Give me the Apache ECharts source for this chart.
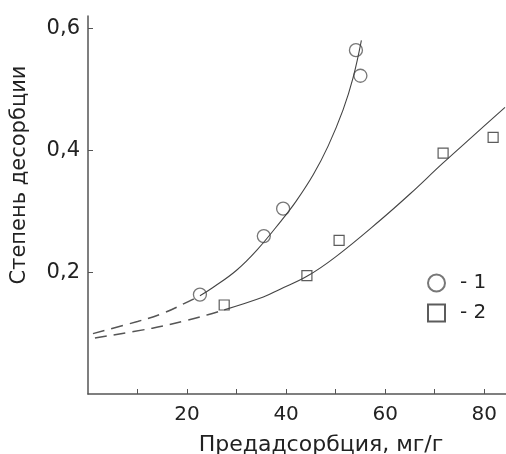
<!DOCTYPE html>
<html>
<head>
<meta charset="utf-8">
<script src="https://cdn.jsdelivr.net/npm/echarts@6/dist/echarts.min.js"></script>
<style>html,body{margin:0;padding:0;background:#fff}#c{width:506px;height:454px}</style>
</head>
<body>
<div id="c"></div>
<script>
// Experimental points
const series1Points = [[22.6, 0.163], [35.5, 0.259], [39.4, 0.304], [54.1, 0.564], [55.0, 0.522]];
const series2Points = [[27.5, 0.146], [44.2, 0.194], [50.7, 0.252], [71.7, 0.395], [81.8, 0.421]];
// Fitted curves
const fit1Dashed = [[1, 0.099], [10, 0.119], [15, 0.132], [19.6, 0.149], [22.6, 0.161]];
const fit1Solid = [[22.6, 0.161], [25.3, 0.175], [30, 0.203], [34.1, 0.236], [38.8, 0.282], [42, 0.316], [45.5, 0.360], [48.5, 0.407], [51.5, 0.466], [53.5, 0.518], [55.2, 0.580]];
const fit2Dashed = [[1.4, 0.092], [13, 0.108], [20, 0.121], [24.2, 0.130], [27.5, 0.138]];
const fit2Solid = [[27.5, 0.138], [35.4, 0.159], [38.8, 0.172], [44.2, 0.193], [50, 0.225], [59, 0.285], [65, 0.328], [71.7, 0.379], [78, 0.425], [84.2, 0.470]];
const xTicks = [10, 20, 30, 40, 50, 60, 70, 80];
const xLabels = [20, 40, 60, 80];
const yTicks = [0.2, 0.4, 0.6];
const legendNames = ['- 1', '- 2'];

const chart = echarts.init(document.getElementById('c'));
const lineColor = '#444';
const font = '"DejaVu Sans", sans-serif';
chart.setOption({
  animation: false,
  backgroundColor: '#fff',
  textStyle: { fontFamily: font },
  grid: { left: 88, right: 0, top: 16, bottom: 60, outerBoundsMode: 'none', containLabel: false },
  legend: {
    orient: 'vertical', left: 422, top: 268,
    itemWidth: 17, itemHeight: 17, itemGap: 10,
    data: legendNames,
    textStyle: { fontSize: 20, lineHeight: 17, color: '#222', fontFamily: font, padding: [0, 0, 0, 10] }
  },
  xAxis: {
    type: 'value', min: 0, max: 84.4,
    name: 'Предадсорбция, мг/г', nameLocation: 'middle', nameGap: 40,
    nameTextStyle: { fontSize: 22, color: '#222', padding: [0, 0, 0, 48] },
    axisLine: { lineStyle: { color: '#555', width: 1.5 } },
    axisTick: { inside: true, length: 5, customValues: xTicks, lineStyle: { color: '#555' } },
    axisLabel: { customValues: xLabels, fontSize: 20, color: '#222', margin: 11 },
    splitLine: { show: false }
  },
  yAxis: {
    type: 'value', min: 0, max: 0.62,
    name: 'Степень десорбции', nameLocation: 'middle', nameGap: 58, nameRotate: 90,
    nameTextStyle: { fontSize: 21, color: '#222', padding: [0, 0, 0, 60] },
    axisLine: { lineStyle: { color: '#555', width: 1.5 } },
    axisTick: { inside: true, length: 5, customValues: yTicks, lineStyle: { color: '#555' } },
    axisLabel: { customValues: yTicks, fontSize: 21, color: '#222', margin: 8,
      formatter: v => v.toFixed(1).replace('.', ',') },
    splitLine: { show: false }
  },
  series: [
    { type: 'line', data: fit1Dashed, smooth: 0.4, symbol: 'none', lineStyle: { color: '#555', width: 1.5, type: [12, 7] }, silent: true },
    { type: 'line', data: fit1Solid, smooth: 0.4, symbol: 'none', lineStyle: { color: lineColor, width: 1.1 }, silent: true },
    { type: 'line', data: fit2Dashed, smooth: 0.4, symbol: 'none', lineStyle: { color: '#555', width: 1.5, type: [12, 7] }, silent: true },
    { type: 'line', data: fit2Solid, smooth: 0.4, symbol: 'none', lineStyle: { color: lineColor, width: 1.1 }, silent: true },
    { name: legendNames[0], type: 'scatter', data: series1Points, symbol: 'circle', symbolSize: 13,
      itemStyle: { color: '#fff', borderColor: '#555', borderWidth: 1.3 } },
    { name: legendNames[1], type: 'scatter', data: series2Points, symbol: 'rect', symbolSize: 10,
      itemStyle: { color: '#fff', borderColor: '#333', borderWidth: 1.2 } }
  ]
});
</script>
</body>
</html>
